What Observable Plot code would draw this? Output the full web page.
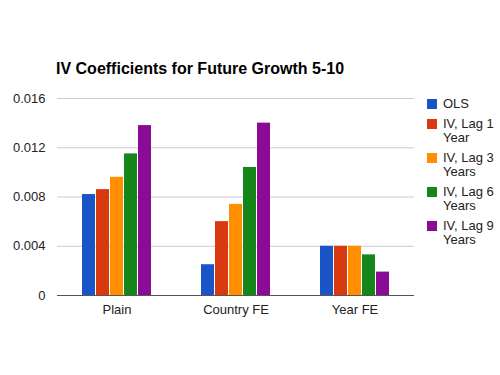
<!DOCTYPE html>
<html>
<head>
<meta charset="utf-8">
<script src="https://cdn.jsdelivr.net/npm/d3@7"></script>
<script src="https://cdn.jsdelivr.net/npm/@observablehq/plot@0.6"></script>
<style>
  html, body { margin: 0; padding: 0; background: #fff; }
  #wrap { position: relative; width: 500px; height: 375px; overflow: hidden; font-family: "Liberation Sans", Arial, sans-serif; }
  #title { position: absolute; left: 56px; top: 60px; font-size: 16px; font-weight: bold; color: #000; white-space: nowrap; }
  #legend { position: absolute; left: 427px; top: 97px; font-size: 13px; color: #222; }
  .item { display: flex; align-items: flex-start; margin-bottom: 5px; line-height: 14.5px; }
  .sw { width: 10px; height: 10px; margin-top: 2px; margin-right: 6px; flex: none; }
</style>
</head>
<body>
<div id="wrap">
  <div id="chart"></div>
  <div id="title"></div>
  <div id="legend"></div>
</div>
<script>
const title = "IV Coefficients for Future Growth 5-10";
const groups = ["Plain", "Country FE", "Year FE"];
const series = ["OLS", "IV, Lag 1 Year", "IV, Lag 3 Years", "IV, Lag 6 Years", "IV, Lag 9 Years"];
const legendLines = [["OLS"], ["IV, Lag 1", "Year"], ["IV, Lag 3", "Years"], ["IV, Lag 6", "Years"], ["IV, Lag 9", "Years"]];
const colors = ["#1a55c8", "#d8390f", "#ff8f00", "#15871a", "#8b0a96"];
const plainValues = [0.0082, 0.0086, 0.0096, 0.0115, 0.0138];
const countryFEValues = [0.0025, 0.0060, 0.0074, 0.0104, 0.0140];
const yearFEValues = [0.0040, 0.0040, 0.0040, 0.0033, 0.0019];
const yTicks = [0, 0.004, 0.008, 0.012, 0.016];

const valuesByGroup = [plainValues, countryFEValues, yearFEValues];
const data = [];
groups.forEach((g, gi) => series.forEach((s, si) => data.push({group: g, series: s, value: valuesByGroup[gi][si]})));

document.getElementById("title").textContent = title;

const chart = Plot.plot({
  width: 500,
  height: 375,
  marginTop: 98,
  marginBottom: 80,
  marginLeft: 56,
  marginRight: 86,
  style: {fontFamily: "Liberation Sans, Arial, sans-serif", fontSize: "13px", color: "#222", background: "transparent"},
  fx: {domain: groups, paddingInner: 0, paddingOuter: 0, label: null, axis: "bottom", tickSize: 0, tickPadding: 9},
  x: {domain: series, paddingInner: 0.1, paddingOuter: 1.61, axis: null},
  y: {domain: [0, 0.016], ticks: yTicks, tickFormat: d => d === 0 ? "0" : d.toFixed(3), tickSize: 0, tickPadding: 12, label: null},
  color: {domain: series, range: colors},
  marks: [
    Plot.ruleY(yTicks.slice(1), {stroke: "#cccccc", strokeWidth: 1}),
    Plot.barY(data, {fx: "group", x: "series", y: "value", fill: "series"}),
    Plot.ruleY([0], {stroke: "#555", strokeWidth: 1.2})
  ]
});
document.getElementById("chart").appendChild(chart);

const legend = document.getElementById("legend");
series.forEach((s, i) => {
  const item = document.createElement("div");
  item.className = "item";
  const sw = document.createElement("div");
  sw.className = "sw";
  sw.style.background = colors[i];
  const lab = document.createElement("div");
  lab.innerHTML = legendLines[i].join("<br>");
  item.appendChild(sw);
  item.appendChild(lab);
  legend.appendChild(item);
});
</script>
</body>
</html>
